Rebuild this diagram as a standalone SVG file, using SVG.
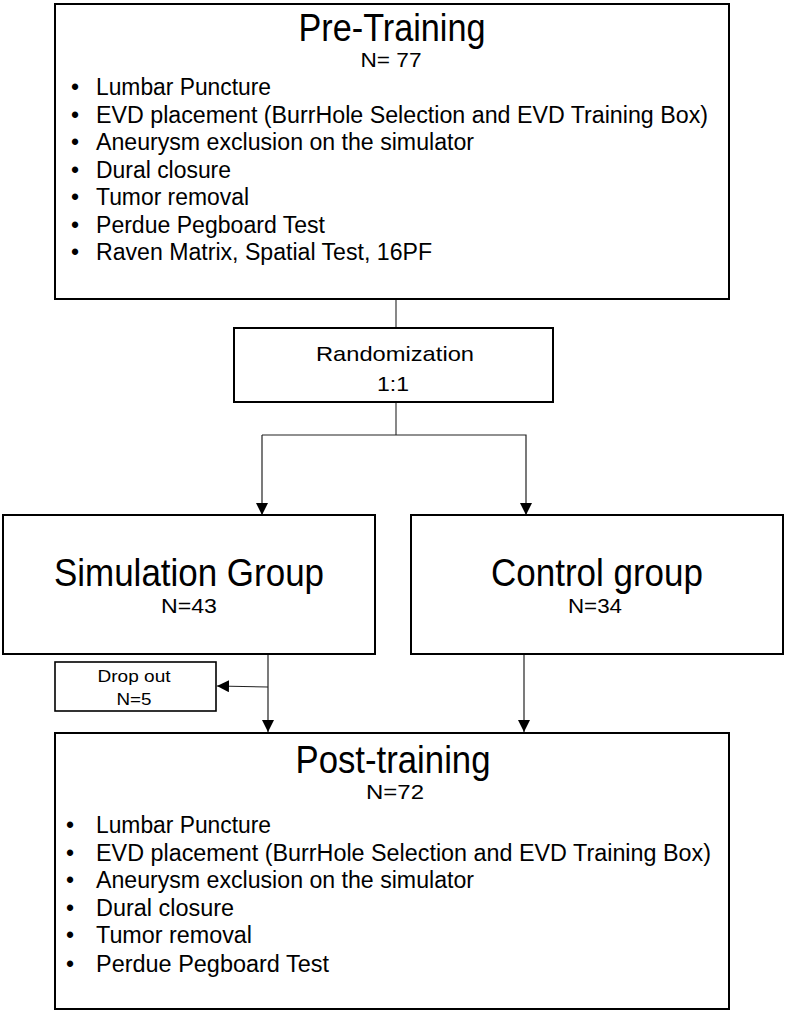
<svg xmlns="http://www.w3.org/2000/svg" width="788" height="1013" viewBox="0 0 788 1013">
<defs>
<style>
.box{fill:#fff;stroke:#000;stroke-width:2}
.t{font-family:"Liberation Sans Narrow","Liberation Sans",Arial,sans-serif;fill:#000}
.big{font-size:38px;text-anchor:middle}
.mid{font-size:21px;text-anchor:middle}
.li{font-size:23px}
.sm{font-size:17px;text-anchor:middle}
.c{fill:none;stroke:#555;stroke-width:1.4}
.ca{fill:none;stroke:#222;stroke-width:1.2}
</style>
<marker id="ah" markerUnits="userSpaceOnUse" markerWidth="12" markerHeight="12" viewBox="0 0 12 12" refX="12" refY="6" orient="auto">
<path d="M0,0 L12,6 L0,12 z" fill="#000"/>
</marker>
</defs>
<rect width="788" height="1013" fill="#fff"/>
<g id="connectors">
<line class="c" x1="396" y1="300" x2="396" y2="328"/>
<line class="c" x1="396" y1="402" x2="396" y2="435"/>
<polyline class="ca" points="262,435 526,435 526,515" marker-end="url(#ah)"/>
<line class="ca" x1="262" y1="435" x2="262" y2="515" marker-end="url(#ah)"/>
<line class="ca" x1="268" y1="655" x2="268" y2="732" marker-end="url(#ah)"/>
<line class="ca" x1="268" y1="687" x2="217" y2="686" marker-end="url(#ah)"/>
<line class="ca" x1="524" y1="655" x2="524" y2="732" marker-end="url(#ah)"/>
</g>
<g id="pre-training">
<rect class="box" x="55" y="4" width="674" height="295"/>
<text class="t big" x="392" y="41" textLength="187" lengthAdjust="spacingAndGlyphs">Pre-Training</text>
<text class="t mid" x="391" y="67" textLength="61" lengthAdjust="spacingAndGlyphs">N= 77</text>
<g class="t li">
<text x="71" y="95">•</text><text x="96" y="95" textLength="175" lengthAdjust="spacingAndGlyphs">Lumbar Puncture</text>
<text x="71" y="123">•</text><text x="96" y="123" textLength="612" lengthAdjust="spacingAndGlyphs">EVD placement (BurrHole Selection and EVD Training Box)</text>
<text x="71" y="150">•</text><text x="96" y="150" textLength="378" lengthAdjust="spacingAndGlyphs">Aneurysm exclusion on the simulator</text>
<text x="71" y="178">•</text><text x="96" y="178" textLength="135" lengthAdjust="spacingAndGlyphs">Dural closure</text>
<text x="71" y="205">•</text><text x="96" y="205" textLength="153" lengthAdjust="spacingAndGlyphs">Tumor removal</text>
<text x="71" y="233">•</text><text x="96" y="233" textLength="229" lengthAdjust="spacingAndGlyphs">Perdue Pegboard Test</text>
<text x="71" y="260">•</text><text x="96" y="260" textLength="336" lengthAdjust="spacingAndGlyphs">Raven Matrix, Spatial Test, 16PF</text>
</g>
</g>
<g id="randomization">
<rect class="box" x="234" y="328" width="319" height="74"/>
<text class="t mid" x="395" y="361" textLength="158" lengthAdjust="spacingAndGlyphs">Randomization</text>
<text class="t mid" x="393" y="391" textLength="32" lengthAdjust="spacingAndGlyphs">1:1</text>
</g>
<g id="simulation-group">
<rect class="box" x="3" y="515" width="372" height="139"/>
<text class="t big" x="189" y="586" textLength="270" lengthAdjust="spacingAndGlyphs">Simulation Group</text>
<text class="t mid" x="189" y="613" textLength="56" lengthAdjust="spacingAndGlyphs">N=43</text>
</g>
<g id="control-group">
<rect class="box" x="411" y="515" width="372" height="139"/>
<text class="t big" x="597" y="586" textLength="212" lengthAdjust="spacingAndGlyphs">Control group</text>
<text class="t mid" x="595" y="613" textLength="54" lengthAdjust="spacingAndGlyphs">N=34</text>
</g>
<g id="drop-out">
<rect class="box" x="55" y="662" width="161" height="49" style="stroke-width:1.6"/>
<text class="t sm" x="134" y="682" textLength="73" lengthAdjust="spacingAndGlyphs">Drop out</text>
<text class="t sm" x="134" y="705" textLength="35" lengthAdjust="spacingAndGlyphs">N=5</text>
</g>
<g id="post-training">
<rect class="box" x="55" y="733" width="674" height="276"/>
<text class="t big" x="393" y="773" textLength="195" lengthAdjust="spacingAndGlyphs">Post-training</text>
<text class="t mid" x="395" y="799" textLength="58" lengthAdjust="spacingAndGlyphs">N=72</text>
<g class="t li">
<text x="66" y="833">•</text><text x="96" y="833" textLength="175" lengthAdjust="spacingAndGlyphs">Lumbar Puncture</text>
<text x="66" y="861">•</text><text x="96" y="861" textLength="615" lengthAdjust="spacingAndGlyphs">EVD placement (BurrHole Selection and EVD Training Box)</text>
<text x="66" y="888">•</text><text x="96" y="888" textLength="378" lengthAdjust="spacingAndGlyphs">Aneurysm exclusion on the simulator</text>
<text x="66" y="916">•</text><text x="96" y="916" textLength="138" lengthAdjust="spacingAndGlyphs">Dural closure</text>
<text x="66" y="943">•</text><text x="96" y="943" textLength="156" lengthAdjust="spacingAndGlyphs">Tumor removal</text>
<text x="66" y="972">•</text><text x="96" y="972" textLength="233" lengthAdjust="spacingAndGlyphs">Perdue Pegboard Test</text>
</g>
</g>
</svg>
